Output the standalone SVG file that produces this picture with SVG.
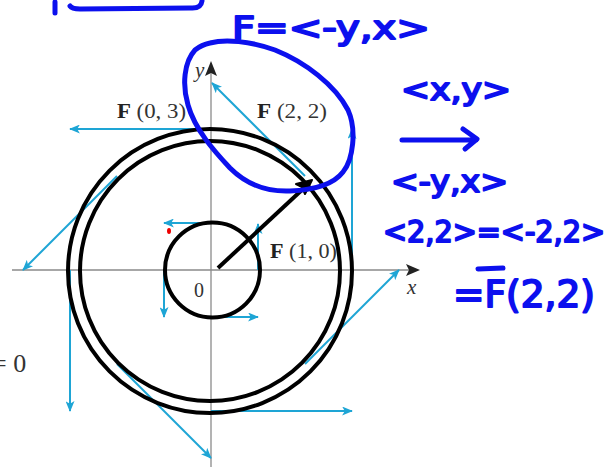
<svg xmlns="http://www.w3.org/2000/svg" width="616" height="467" viewBox="0 0 616 467">
<style>
.ax{stroke:#8a8a8a;stroke-width:1.3;fill:none}
.vec{stroke:#1ea5d5;stroke-width:2;fill:none;marker-end:url(#ch)}
.blk{stroke:#000;stroke-width:4;fill:none}
.ink{stroke:#0c10ee;stroke-width:5;fill:none;stroke-linecap:round;stroke-linejoin:round}
.lbl{font-family:"Liberation Serif",serif;font-size:20px;fill:#333}
.it{font-family:"Liberation Serif",serif;font-style:italic;font-size:21px;fill:#333}
.hw{font-family:"DejaVu Sans",sans-serif;font-weight:normal;fill:#0c10ee;stroke:#0c10ee;stroke-width:2;stroke-linejoin:round}
</style>
<defs>
<marker id="ch" viewBox="0 0 12 10" refX="11" refY="5" markerWidth="11" markerHeight="9" orient="auto" markerUnits="userSpaceOnUse">
<path d="M0,0 L12,5 L0,10 L3,5 Z" fill="#1ea5d5"/>
</marker>
</defs>
<rect width="616" height="467" fill="#fff"/>
<g id="axes">
<line class="ax" x1="12" y1="270" x2="412" y2="270"/>
<path d="M420,270 L406,264 L409,270 L406,276 Z" fill="#222"/>
<line class="ax" x1="211" y1="467" x2="211" y2="70"/>
<path d="M211,61 L205,76 L211,73 L217,76 Z" fill="#222"/>
<text class="it" x="195" y="77">y</text>
<text class="it" x="407" y="294">x</text>
<text class="lbl" x="194" y="297">0</text>
</g>
<g id="connectors">
<line class="vec" x1="258" y1="270" x2="258" y2="224"/>
<line class="vec" x1="211" y1="223" x2="164" y2="223"/>
<line class="vec" x1="164" y1="270" x2="164" y2="317"/>
<line class="vec" x1="211" y1="317" x2="258" y2="317"/>
<line class="vec" x1="305" y1="176" x2="212" y2="83"/>
<line class="vec" x1="211" y1="129" x2="70" y2="129"/>
<line class="vec" x1="352" y1="270" x2="352" y2="129"/>
<line class="vec" x1="211" y1="411" x2="352" y2="411"/>
<line class="vec" x1="70" y1="270" x2="70" y2="411"/>
<line class="vec" x1="117" y1="176" x2="23" y2="270"/>
<line class="vec" x1="305" y1="364" x2="399" y2="270"/>
<line class="vec" x1="117" y1="364" x2="211" y2="458"/>
</g>
<g id="labels">
<text class="lbl" x="117" y="118" textLength="69" lengthAdjust="spacingAndGlyphs"><tspan font-weight="bold" fill="#222">F</tspan> (0, 3)</text>
<text class="lbl" x="257" y="118" textLength="70" lengthAdjust="spacingAndGlyphs"><tspan font-weight="bold" fill="#222">F</tspan> (2, 2)</text>
<text class="lbl" x="270" y="258" textLength="67" lengthAdjust="spacingAndGlyphs"><tspan font-weight="bold" fill="#222">F</tspan> (1, 0)</text>
<text class="lbl" x="-8" y="372" style="font-size:26px">= 0</text>
</g>
<g id="circles">
<circle class="blk" cx="212.5" cy="270" r="47.5"/>
<circle class="blk" cx="210" cy="271" r="142"/>
<circle class="blk" cx="210" cy="271" r="130"/>
<line class="blk" x1="218" y1="268" x2="304" y2="188"/>
<path d="M312,180 L296,184 L302,187 L305,194 Z" fill="#000" stroke="#000" stroke-width="2" stroke-linejoin="round"/>
</g>
<ellipse cx="169" cy="231" rx="2" ry="3" fill="#e00"/>
<g id="annotations">
<path class="ink" d="M55,2 L55,13 M70,6 Q72,9 80,9 L190,8 Q201,9 202,1"/>
<path class="ink" d="M210,43 C225,39 250,41 275,50 C305,62 335,85 348,110 C357,130 353,160 343,172 C333,185 313,190 290,191 C265,192 245,183 230,168 C215,152 195,130 188,105 C182,85 184,62 195,50 C200,46 205,44 210,43 Z"/>
<path class="ink" d="M402,140 L476,140 M463,129 L477,139 L465,149"/>
<path class="ink" d="M478,269 L503,268"/>
<text class="hw" x="232" y="39" font-size="32" textLength="198" lengthAdjust="spacingAndGlyphs">F=&lt;-y,x&gt;</text>
<text class="hw" x="401" y="100" font-size="30" textLength="110" lengthAdjust="spacingAndGlyphs">&lt;x,y&gt;</text>
<text class="hw" x="391" y="192" font-size="30" textLength="117" lengthAdjust="spacingAndGlyphs">&lt;-y,x&gt;</text>
<text class="hw" x="383" y="242" font-size="30" textLength="222" lengthAdjust="spacingAndGlyphs">&lt;2,2&gt;=&lt;-2,2&gt;</text>
<text class="hw" x="453" y="307" font-size="38" textLength="142" lengthAdjust="spacingAndGlyphs">=F(2,2)</text>
</g>
</svg>
